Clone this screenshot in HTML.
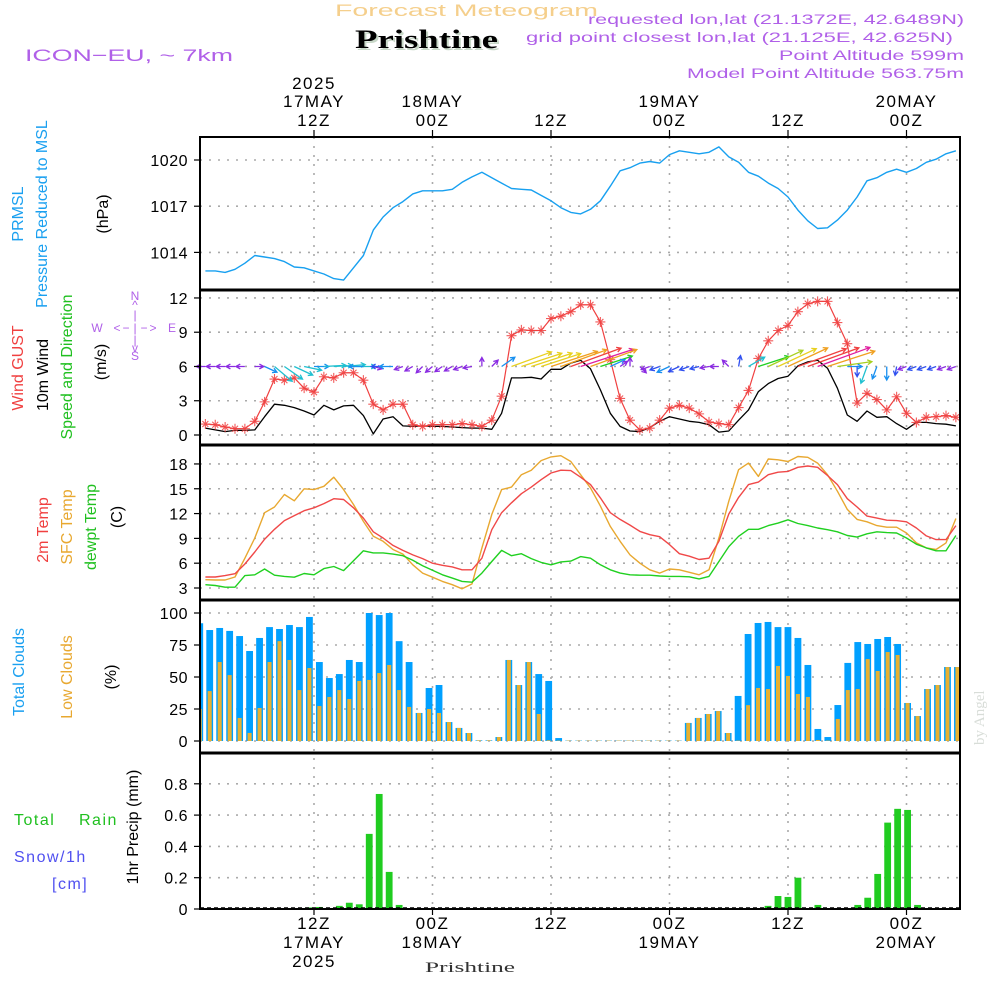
<!DOCTYPE html>
<html><head><meta charset="utf-8">
<style>
html,body{margin:0;padding:0;background:#fff;}
svg{display:block;font-family:"Liberation Sans",sans-serif;}
</style></head>
<body>
<svg id="chart" width="1000" height="1000" viewBox="0 0 1000 1000" xmlns="http://www.w3.org/2000/svg">
<rect x="0" y="0" width="1000" height="1000" fill="#fff"/>
<g id="gridLayer"></g>
<g id="dataLayer"></g>
<g id="axisLayer"></g>

<text x="335" y="16" font-size="17" fill="#f5cf8c" textLength="263" lengthAdjust="spacingAndGlyphs">Forecast Meteogram</text>
<text x="357" y="50" font-size="26" font-weight="bold" font-family="Liberation Serif,serif" fill="#c8d8c8" textLength="143" lengthAdjust="spacingAndGlyphs">Prishtine</text>
<text x="355" y="48" font-size="26" font-weight="bold" font-family="Liberation Serif,serif" fill="#000" textLength="143" lengthAdjust="spacingAndGlyphs">Prishtine</text>
<text x="25" y="61" font-size="17" fill="#b060e8" textLength="208" lengthAdjust="spacingAndGlyphs">ICON−EU, ~ 7km</text>
<g font-size="14" fill="#b060e8" text-anchor="end">
<text x="964" y="24" textLength="376" lengthAdjust="spacingAndGlyphs">requested lon,lat (21.1372E, 42.6489N)</text>
<text x="953" y="42" textLength="427" lengthAdjust="spacingAndGlyphs">grid point closest lon,lat (21.125E, 42.625N)</text>
<text x="964" y="60" textLength="185" lengthAdjust="spacingAndGlyphs">Point Altitude 599m</text>
<text x="964" y="78" textLength="277" lengthAdjust="spacingAndGlyphs">Model Point Altitude 563.75m</text>
</g>
<text transform="translate(984,745) rotate(-90)" font-size="15" font-family="Liberation Serif,serif" fill="#d8ddd8">by Angel</text>
<text x="425" y="972" font-size="15" font-family="Liberation Serif,serif" fill="#333" textLength="90" lengthAdjust="spacingAndGlyphs">Prishtine</text>

<g font-size="16">
<text transform="translate(23,214) rotate(-90)" text-anchor="middle" fill="#1aa0f0">PRMSL</text>
<text transform="translate(47,214) rotate(-90)" text-anchor="middle" fill="#1aa0f0">Pressure Reduced to MSL</text>
<text transform="translate(108,214) rotate(-90)" text-anchor="middle" fill="#000">(hPa)</text>
</g>
<g font-size="16">
<text transform="translate(23,368) rotate(-90)" text-anchor="middle" fill="#f04040">Wind GUST</text>
<text transform="translate(48,375) rotate(-90)" text-anchor="middle" fill="#000">10m Wind</text>
<text transform="translate(72,367) rotate(-90)" text-anchor="middle" fill="#20c020">Speed and Direction</text>
<text transform="translate(106,362) rotate(-90)" text-anchor="middle" fill="#000">(m/s)</text>
<g fill="#b060e8" font-size="12" text-anchor="middle">
<text x="135" y="300">N</text><text x="135" y="309">^</text><text x="135" y="319">|</text>
<text x="97" y="332">W</text><text x="117" y="332">&lt;</text><text x="126" y="332">−</text><text x="135" y="332">|</text><text x="144" y="332">−</text><text x="153" y="332">&gt;</text><text x="172" y="332">E</text>
<text x="135" y="344">|</text><text x="135" y="352">v</text><text x="135" y="360">S</text>
</g>
</g>
<g font-size="16">
<text transform="translate(48,530) rotate(-90)" text-anchor="middle" fill="#f04040">2m Temp</text>
<text transform="translate(72,527) rotate(-90)" text-anchor="middle" fill="#e8a830">SFC Temp</text>
<text transform="translate(96,527) rotate(-90)" text-anchor="middle" fill="#20c020">dewpt Temp</text>
<text transform="translate(122,517) rotate(-90)" text-anchor="middle" fill="#000">(C)</text>
</g>
<g font-size="16">
<text transform="translate(24,672) rotate(-90)" text-anchor="middle" fill="#1aa0f0">Total Clouds</text>
<text transform="translate(72,677) rotate(-90)" text-anchor="middle" fill="#e8a830">Low Clouds</text>
<text transform="translate(116,677) rotate(-90)" text-anchor="middle" fill="#000">(%)</text>
</g>
<g font-size="16">
<text x="14" y="825" fill="#20c020" letter-spacing="1.5">Total</text>
<text x="79" y="825" fill="#20c020" letter-spacing="1.5">Rain</text>
<text x="14" y="862" fill="#5050f0" letter-spacing="1.5">Snow/1h</text>
<text x="52" y="889" fill="#5050f0" letter-spacing="1.5">[cm]</text>
<text transform="translate(138,827) rotate(-90)" text-anchor="middle" fill="#000">1hr Precip (mm)</text>
</g>
</svg>

<script>
// ---- data (hourly, hours 1..77 after 00Z 17MAY) ----
const hours = [];
for (let i = 1; i <= 77; i++) hours.push(i);

const pressure = [1012.8,1012.8,1012.7,1012.9,1013.3,1013.8,1013.7,1013.6,1013.4,1013.05,1013.0,1012.8,1012.6,1012.3,1012.2,1013.0,1013.8,1015.45,1016.3,1016.9,1017.3,1017.8,1018.0,1018.0,1018.0,1018.1,1018.55,1018.9,1019.2,1018.85,1018.5,1018.15,1018.1,1018.05,1017.7,1017.35,1016.9,1016.6,1016.5,1016.8,1017.35,1018.3,1019.3,1019.5,1019.8,1019.9,1019.8,1020.35,1020.6,1020.5,1020.4,1020.5,1020.85,1020.2,1019.85,1019.2,1018.95,1018.5,1018.15,1017.6,1016.75,1016.05,1015.55,1015.6,1016.1,1016.75,1017.6,1018.65,1018.85,1019.2,1019.4,1019.2,1019.45,1019.85,1020.05,1020.4,1020.6];

const gust = [0.96,0.9,0.7,0.55,0.55,1.2,2.9,4.9,4.8,5.0,4.1,3.75,5.1,5.0,5.45,5.45,4.8,2.7,2.2,2.7,2.7,0.9,0.75,0.9,0.9,0.9,1.0,0.9,0.75,1.3,3.4,8.7,9.2,9.15,9.15,10.2,10.4,10.8,11.4,11.4,9.9,6.6,3.2,1.3,0.45,0.6,1.3,2.35,2.6,2.35,1.85,1.15,1.0,0.9,2.4,3.9,6.7,8.25,9.15,9.6,10.8,11.5,11.7,11.7,9.85,8.0,2.8,3.65,3.1,2.2,3.35,1.9,1.1,1.55,1.6,1.7,1.55];

const wind = [0.6,0.45,0.3,0.4,0.4,0.45,1.6,2.7,2.6,2.4,2.1,1.75,2.6,2.2,2.55,2.6,1.7,0.1,1.4,1.6,0.8,0.75,0.8,0.75,0.75,0.7,0.65,0.6,0.6,0.5,1.9,5.0,5.0,5.05,4.9,5.75,5.75,6.3,6.55,5.8,3.95,1.9,0.75,0.35,0.3,0.65,1.2,1.6,1.4,1.2,1.1,0.9,0.25,0.35,1.3,2.2,3.8,4.5,4.95,5.15,6.05,6.4,6.55,5.85,4.1,1.75,1.2,2.1,1.55,1.6,1.0,0.5,1.1,1.1,1.0,0.95,0.8];

// direction the arrow points on screen, degrees counter-clockwise from east
const windDir = [180,180,180,180,180,0,-25,-40,-35,-25,-12,0,3,3,5,0,180,-15,180,180,200,210,225,220,215,210,200,190,90,45,35,20,18,18,18,18,20,20,18,20,18,25,35,90,-45,200,200,205,205,200,195,190,180,135,80,30,18,25,25,25,20,20,20,18,8,0,-90,-110,-110,-90,-100,200,200,200,200,200,200];

const temp2m = [4.33,4.33,4.5,4.73,5.9,7.35,8.9,10.1,11.15,11.75,12.35,12.7,13.2,13.8,13.7,12.7,11.45,9.8,9.05,8.15,7.55,7.0,6.55,6.0,5.75,5.55,5.2,5.2,6.6,10.05,12.1,13.3,14.4,15.2,16.1,16.9,17.25,17.2,16.4,15.5,13.9,12.1,11.3,10.6,9.85,9.45,9.2,8.25,7.15,6.85,6.45,6.6,8.65,11.95,13.95,15.5,15.8,16.7,17.0,17.1,17.6,17.75,17.6,16.6,15.5,13.8,12.8,11.7,11.45,11.2,11.15,11.0,10.25,9.3,8.85,8.85,10.55];

const tempSfc = [4.0,3.97,3.97,4.33,6.6,9.05,12.1,12.8,14.3,13.55,15.0,14.9,15.3,16.4,14.9,13.1,11.05,9.25,8.65,7.65,7.1,5.8,4.8,4.3,3.8,3.4,2.9,3.5,7.85,11.9,14.9,15.2,16.7,17.25,18.4,18.85,19.0,18.3,16.7,15.1,12.9,10.45,8.65,7.0,6.0,5.2,4.8,5.3,5.2,4.9,4.6,5.2,9.05,13.5,17.3,18.1,16.5,18.6,18.5,18.3,18.9,18.8,18.1,16.7,14.7,12.5,11.3,11.0,10.55,10.35,10.35,9.65,8.45,7.85,7.65,8.45,11.4];

const dewpt = [3.4,3.3,3.1,3.1,4.5,4.6,5.3,4.55,4.4,4.3,4.75,4.6,5.35,5.6,5.1,6.3,7.5,7.25,7.25,7.1,6.9,6.35,5.7,5.15,4.6,4.2,3.8,3.7,4.8,6.2,7.55,6.9,7.15,6.55,6.1,5.8,6.15,6.25,6.8,6.6,5.8,5.2,4.8,4.6,4.55,4.55,4.45,4.4,4.4,4.35,4.1,4.4,6.2,8.0,9.25,10.1,10.1,10.55,10.85,11.25,10.8,10.55,10.25,10.05,9.8,9.35,9.15,9.55,9.8,9.7,9.65,9.05,8.3,7.85,7.5,7.5,9.35];

const totalCloud = [92,86.7,88.3,86,82,70.3,80.5,89,87.5,90.6,89,96.9,61.7,49.2,52.3,63.3,61.7,100,98.4,100,78,61.7,21.9,41.4,43.75,14.8,10.2,6.25,0.5,0.5,3.1,63.3,43.75,61.7,52.3,46.9,2.3,0.3,0.3,0.3,0.3,0.3,0.3,0.3,0.3,0.3,0.3,0.3,0.3,14.1,18,21.1,23.4,6.25,35.2,83.6,92.2,93,89,89,80.5,59.4,9.4,3.1,28.1,61,77.3,75.8,79.7,81.25,75.8,29.7,19.5,40.6,43.75,57.8,57.8];

const lowCloud = [25,39,61.7,51.5,18,6.3,25.8,61.7,78,63.3,39.8,57,27.3,34.4,39.8,32.8,46.9,47.7,53.1,59.4,39.8,26.6,21.9,25,21.9,14.8,10.2,6.25,0.5,0.5,3.1,63.3,43.75,61.7,21.1,0.5,0.3,0.3,0.3,0.3,0.3,0.3,0.3,0.3,0.3,0.3,0.3,0.3,0.3,14.1,18,21.1,23.4,6.25,0.3,28,41.4,40.6,58.6,50.8,36.7,34.4,0.8,0.3,17.2,39.8,40.6,64,54.7,69.5,67.2,29.7,19.5,40.6,43.75,57.8,57.8];

const precip = [0,0,0,0,0,0,0,0,0,0,0,0.01,0.013,0.004,0.02,0.04,0.03,0.48,0.735,0.237,0.026,0,0,0,0,0,0,0,0,0,0,0,0,0,0,0,0,0,0,0,0,0,0,0,0,0,0,0,0,0,0,0,0,0,0,0,0,0.02,0.083,0.077,0.2,0,0.026,0,0,0,0.026,0.072,0.224,0.552,0.64,0.633,0.026,0,0,0,0,0];

const timeTicks = [12,24,36,48,60,72];
const topTickLabels = [["2025","17MAY","12Z"],["","18MAY","00Z"],["","","12Z"],["","19MAY","00Z"],["","","12Z"],["","20MAY","00Z"]];
const bottomTickLabels = [["12Z","17MAY","2025"],["00Z","18MAY",""],["12Z","",""],["00Z","19MAY",""],["12Z","",""],["00Z","20MAY",""]];
const pTicks = [1014,1017,1020];
const wTicks = [0,3,6,9,12];
const tTicks = [3,6,9,12,15,18];
const cTicks = [0,25,50,75,100];
const rTicks = [0,0.2,0.4,0.6,0.8];
const rTickLabels = ["0","0.2","0.4","0.6","0.8"];

// ---- scales ----
const X0 = 200, X1 = 960;
function xS(h){ return 195.5 + 9.875*h; }
function barX(i){ return xS(0.43 + i*1.0096); }
function yP(v){ return 160 - (v-1020)*15.4; }
function yW(v){ return 435 - v*11.42; }
function yT(v){ return 588 - (v-3)*8.27; }
function yC(v){ return 741 - v*1.28; }
function yR(v){ return 909 - v*156.5; }
const panels = [[137,290],[290,445],[445,600],[600,753],[753,909]];

const NS = "http://www.w3.org/2000/svg";
function mk(tag, attrs, parent){
  const e = document.createElementNS(NS, tag);
  for (const k in attrs) e.setAttribute(k, attrs[k]);
  parent.appendChild(e);
  return e;
}
const grid = document.getElementById('gridLayer');
const dl = document.getElementById('dataLayer');
const ax = document.getElementById('axisLayer');

// grid
const gd = {stroke:"#aaa","stroke-width":1.6,"stroke-dasharray":"2,7"};
timeTicks.forEach(h=>{
  const l = mk('line', Object.assign({x1:xS(h),x2:xS(h),y1:137,y2:909}, gd), grid);
  
  
});
function hgrid(ticks, yf, name){
  ticks.forEach(t=>{
    const l = mk('line', Object.assign({x1:X0,x2:X1,y1:yf(t),y2:yf(t)}, gd), grid);
    
    
  });
}
hgrid(pTicks,yP,'pressure-gridline'); hgrid(wTicks,yW,'wind-gridline');
hgrid(tTicks,yT,'temp-gridline'); hgrid(cTicks,yC,'cloud-gridline'); hgrid(rTicks.slice(1),yR,'precip-gridline');

function poly(vals, yf, color, name, w){
  const pts = vals.map((v,i)=>xS(hours[i]).toFixed(1)+","+yf(v).toFixed(1)).join(" ");
  const p = mk('polyline',{points:pts,fill:"none",stroke:color,"stroke-width":w||1.4,"stroke-linejoin":"round"}, dl);
  
  
}

// pressure
poly(pressure, yP, "#18a0f0", "pressure-line");

// wind mean
poly(wind, yW, "#000", "wind-speed-line", 1.3);
// gust
poly(gust, yW, "#f04040", "wind-gust-line", 1.2);
gust.forEach((v,i)=>{
  const x = xS(hours[i]), y = yW(v);
  const m = mk('path',{d:`M${x-5},${y}H${x+5}M${x},${y-5}V${y+5}M${x-3},${y-3}L${x+3},${y+3}M${x-3},${y+3}L${x+3},${y-3}`,stroke:"#f04040","stroke-width":1.1,"stroke-opacity":0.85}, dl);
  
  
});
// wind arrows
function windColor(s){
  if (s<1.0) return "#8a2be2";
  if (s<1.5) return "#3050f0";
  if (s<2.0) return "#1890f0";
  if (s<3.0) return "#20c0d0";
  if (s<4.0) return "#20d020";
  if (s<4.6) return "#a8d020";
  if (s<5.1) return "#e8d020";
  if (s<5.9) return "#f0a020";
  if (s<6.45) return "#f04040";
  return "#e020a0";
}
wind.forEach((s,i)=>{
  const x0 = xS(hours[i]), y0 = yW(6);
  const L = Math.max(9, s*8.5);
  const a = windDir[i]*Math.PI/180;
  const x1 = x0 + L*Math.cos(a), y1 = y0 - L*Math.sin(a);
  const hl = 5, ha = 0.5;
  const bx = Math.cos(a+Math.PI), by = -Math.sin(a+Math.PI);
  const ang = Math.atan2(by,bx);
  const p1x = x1 + hl*Math.cos(ang+ha), p1y = y1 + hl*Math.sin(ang+ha);
  const p2x = x1 + hl*Math.cos(ang-ha), p2y = y1 + hl*Math.sin(ang-ha);
  const ar = mk('path',{d:`M${x0},${y0}L${x1},${y1}M${p1x},${p1y}L${x1},${y1}L${p2x},${p2y}`,stroke:windColor(s),"stroke-width":1.3,fill:"none"}, dl);
  
  
});

// temperatures
poly(tempSfc, yT, "#e8a830", "sfc-temp-line");
poly(temp2m, yT, "#f04848", "2m-temp-line");
poly(dewpt, yT, "#20d020", "dewpoint-line");

// clouds
totalCloud.forEach((v,i)=>{
  const x = barX(i);
  const left = Math.max(X0, x-3.4);
  const b = mk('rect',{x:left,y:yC(v),width:Math.max(0,x+3.4-left),height:yC(0)-yC(v),fill:"#00a0ff"}, dl);
  
  
});
lowCloud.forEach((v,i)=>{
  const x = barX(i);
  const left = Math.max(X0, x-2);
  const b = mk('rect',{x:left,y:yC(v),width:Math.max(0,x+2-left),height:yC(0)-yC(v),fill:"#e8b030"}, dl);
  
  
});

// precip
precip.forEach((v,i)=>{
  if (v<=0) return;
  const x = barX(i);
  const b = mk('rect',{x:x-3.4,y:yR(v),width:6.8,height:yR(0)-yR(v),fill:"#20cc20"}, dl);
  
  
});
const zl = mk('line',{x1:X0,x2:X1,y1:908,y2:908,stroke:"#000","stroke-width":1.5,"stroke-dasharray":"4,3"}, dl);



// frames
panels.forEach((p,k)=>{
  const r = mk('rect',{x:X0,y:p[0],width:X1-X0,height:p[1]-p[0],fill:"none",stroke:"#000","stroke-width":2}, ax);
  
  
});
[290,445,600,753].forEach(y=>{
  const l = mk('line',{x1:X0,x2:X1,y1:y,y2:y,stroke:"#000","stroke-width":3}, ax);
  
  
});

// y tick labels
function yticks(ticks, labels, yf, name){
  ticks.forEach((t,i)=>{
    const y = yf(t);
    const tk = mk('line',{x1:X0-6,x2:X0,y1:y,y2:y,stroke:"#000","stroke-width":1.2}, ax);
    
    
    const tx = mk('text',{x:X0-12,y:y+6,"text-anchor":"end","font-size":16,fill:"#000","letter-spacing":0.5}, ax);
    tx.textContent = labels ? labels[i] : String(t);
    
    
  });
}
yticks(pTicks,null,yP,'pressure'); yticks(wTicks,null,yW,'wind');
yticks(tTicks,null,yT,'temp'); yticks(cTicks,null,yC,'cloud'); yticks(rTicks,rTickLabels,yR,'precip');

// time ticks & labels
timeTicks.forEach((h,i)=>{
  const x = xS(h);
  const t1 = mk('line',{x1:x,x2:x,y1:130,y2:137,stroke:"#000","stroke-width":1.2}, ax);
  
  
  const t2 = mk('line',{x1:x,x2:x,y1:909,y2:915,stroke:"#000","stroke-width":1.2}, ax);
  
  
  const tl = topTickLabels[i];
  [89,107,126].forEach((yy,j)=>{
    if (!tl[j]) return;
    const tx = mk('text',{x:x,y:yy,"text-anchor":"middle","font-size":17,fill:"#000","letter-spacing":1.5}, ax);
    tx.textContent = tl[j];
    
    
  });
  const bl = bottomTickLabels[i];
  [929,948,967].forEach((yy,j)=>{
    if (!bl[j]) return;
    const tx = mk('text',{x:x,y:yy,"text-anchor":"middle","font-size":17,fill:"#000","letter-spacing":1.5}, ax);
    tx.textContent = bl[j];
    
    
  });
});
</script>
</body></html>
